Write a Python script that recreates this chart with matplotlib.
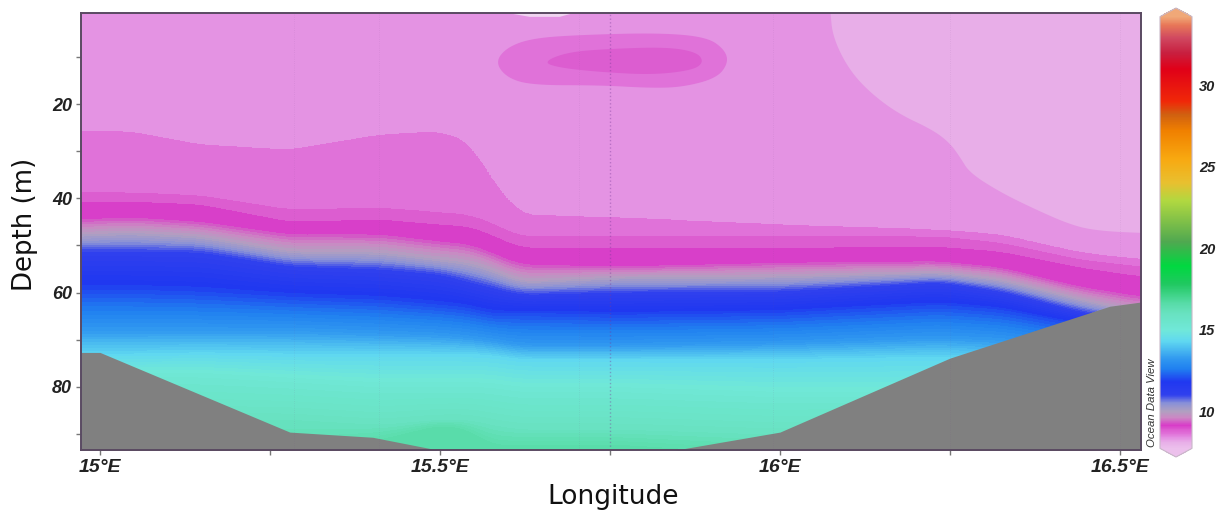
import numpy as np
import matplotlib
matplotlib.use('Agg')
import matplotlib.pyplot as plt
from matplotlib.colors import LinearSegmentedColormap, Normalize
from matplotlib.cm import ScalarMappable
from matplotlib.ticker import FixedLocator

# stations along the section (deg E)
lons = [14.972, 15.044, 15.147, 15.279, 15.412, 15.5, 15.544, 15.574, 15.618, 15.765, 16.0, 16.235, 16.324, 16.441, 16.531]

# temperature of each isotherm and its depth (m) at every station
iso_temps = [8.5, 8.75, 9.0, 9.25, 10.0, 11.0, 12.0, 13.2, 14.3, 15.2, 16.0, 16.5]
iso_depths = [
    [25.9, 25.9, 28.7, 29.8, 26.6, 25.9, 28.3, 36.1, 43.6, 44.2, 45.7, 46.8, 47.8, 51.6, 53.1],
    [38.9, 38.9, 39.5, 42.5, 42.1, 43.1, 43.6, 45.3, 48.2, 48.2, 48.2, 48.2, 49.5, 53.1, 54.6],
    [41.0, 40.8, 41.4, 45.1, 44.6, 45.7, 46.1, 47.8, 50.6, 50.6, 50.6, 50.4, 51.4, 54.8, 56.7],
    [44.6, 44.2, 45.1, 47.8, 47.8, 49.3, 49.9, 51.6, 54.2, 54.6, 53.8, 53.5, 54.8, 58.9, 61.0],
    [47.8, 47.4, 48.2, 51.4, 51.6, 53.1, 53.8, 55.2, 57.8, 56.9, 56.7, 55.9, 57.4, 61.6, 64.4],
    [51.4, 51.4, 51.6, 54.6, 55.2, 56.3, 58.0, 59.1, 60.6, 60.1, 59.9, 58.0, 59.9, 64.2, 66.5],
    [59.5, 59.5, 59.9, 61.0, 61.6, 62.7, 63.3, 64.6, 64.4, 64.8, 64.4, 62.7, 63.7, 66.9, 69.0],
    [68.0, 68.0, 68.0, 68.0, 68.6, 69.0, 69.6, 70.1, 71.2, 71.2, 70.7, 69.6, 70.1, 72.2, 74.4],
    [73.3, 73.3, 73.0, 73.3, 73.3, 73.3, 73.3, 73.5, 74.4, 74.4, 74.4, 73.9, 74.4, 76.5, 78.6],
    [77.5, 77.5, 77.5, 78.6, 79.7, 79.7, 79.7, 79.7, 80.7, 80.7, 81.8, 81.8, 81.8, 82.8, 85.0],
    [82.8, 85.0, 87.1, 87.1, 88.2, 87.1, 87.1, 88.2, 89.2, 89.2, 90.3, 89.2, 89.2, 89.2, 89.2],
    [95.6, 95.6, 95.6, 94.5, 91.3, 88.2, 89.2, 92.4, 92.4, 92.4, 94.5, 95.6, 95.6, 95.6, 95.6],
]
surface_temp = 8.3
deep_temp = 16.8

# closed contours near the surface
pale_lon = [16.073, 16.074, 16.078, 16.099, 16.128, 16.172, 16.225, 16.25, 16.265, 16.279, 16.324, 16.372, 16.422, 16.46, 16.531, 16.65, 16.65]
pale_depth = [-6.0, 0.6, 5.8, 12.1, 17.0, 21.9, 25.5, 28.3, 31.3, 34.6, 38.7, 42.1, 45.3, 46.8, 47.4, 47.6, -6.0]
blob_lon = [15.581, 15.599, 15.637, 15.710, 15.824, 15.893, 15.919, 15.924, 15.907, 15.857, 15.809, 15.735, 15.637, 15.599]
blob_depth = [11.1, 7.9, 6.0, 5.3, 4.9, 5.8, 8.5, 11.3, 14.5, 16.4, 16.6, 16.0, 16.0, 14.5]
core_lon = [15.651, 15.687, 15.746, 15.834, 15.878, 15.888, 15.872, 15.813, 15.735, 15.676]
core_depth = [11.1, 9.0, 8.3, 7.9, 9.0, 11.1, 12.8, 13.8, 13.2, 12.3]
sliver_lon = [15.596, 15.632, 15.676, 15.699]
sliver_depth = [0.6, 1.5, 1.5, 0.6]

# sea floor
bottom_lon = [14.972, 15.0, 15.279, 15.401, 15.5, 15.843, 16.0, 16.25, 16.485, 16.531]
bottom_depth = [72.7, 72.7, 89.6, 90.7, 93.5, 93.5, 89.6, 73.9, 62.9, 62.0]

# faint station lines
station_lines = [15.285, 15.41, 15.705, 15.99, 16.25, 16.5]

# Ocean Data View style colour scale
cmap_temps = [7.73, 8.1, 8.375, 8.625, 8.875, 9.125, 9.6, 10.0, 10.5, 11.0, 11.8, 12.6, 13.2, 14.3, 15.0, 16.0, 16.6,
              17.8, 18.9, 20.4, 22.9, 24.0, 25.5, 27.2, 28.2, 29.0, 31.0, 32.0, 32.9, 33.7, 34.2]
cmap_colors = ['#ecc0ec', '#e8aee8', '#e490e3', '#e070d8', '#dc5cd0', '#d83cc8', '#cc88c4', '#b0a0c0', '#8890d8', '#3040ee',
               '#2038f0', '#2080f0', '#3098f0', '#60d8f0', '#70e8d8', '#68e2c0', '#58dca8',
               '#20c860', '#00d840', '#50a850', '#b0d840', '#e8c030', '#f8a810', '#f08000', '#d06010', '#f02808',
               '#e00018', '#c82040', '#d04860', '#e87858', '#f0a878']

vmin, vmax = cmap_temps[0], cmap_temps[-1]
norm = Normalize(vmin, vmax)
odv = LinearSegmentedColormap.from_list('odv', [((t - vmin) / (vmax - vmin), c) for t, c in zip(cmap_temps, cmap_colors)], N=1024)
odv.set_under('#ecc0ec')
odv.set_over('#f0a878')


def rounded(xs, ys, n=3):
    # corner cutting so the hand read outlines are not angular
    pts = np.column_stack((xs, ys))
    for _ in range(n):
        nxt = np.roll(pts, -1, axis=0)
        pts = np.column_stack((0.75 * pts + 0.25 * nxt, 0.25 * pts + 0.75 * nxt)).reshape(-1, 2)
    return pts[:, 0], pts[:, 1]


def smooth(row, win=15):
    padded = np.pad(row, win, mode='edge')
    return np.convolve(padded, np.ones(win) / win, mode='same')[win:-win]


# rebuild the section from the isotherms
fine_lon = np.linspace(lons[0], lons[-1], 500)
fine_depth = np.linspace(0, 96, 800)
iso_fine = np.array([smooth(np.interp(fine_lon, lons, row)) for row in iso_depths])
temps = np.array([surface_temp] + iso_temps + [deep_temp])
grid = np.zeros((len(fine_depth), len(fine_lon)))
for i in range(len(fine_lon)):
    zs = np.concatenate(([0], iso_fine[:, i], [100]))
    grid[:, i] = np.interp(fine_depth, zs, temps)

levels = np.concatenate((np.arange(8.25, 9.25, 0.25), np.arange(9.25, 17.0, 0.125)))

plt.rcParams['font.family'] = ['Liberation Sans', 'DejaVu Sans']

fig = plt.figure(figsize=(12.17, 5.13), dpi=100)
W, H = 1217.0, 513.0
ax = fig.add_axes([81 / W, 1 - 450 / H, 1060 / W, 437 / H])

ax.contourf(fine_lon, fine_depth, grid, levels=levels, cmap=odv, norm=norm)
ax.fill(*rounded(pale_lon, pale_depth), color=odv(norm(8.1)), lw=0)
ax.fill(*rounded(blob_lon, blob_depth), color=odv(norm(8.625)), lw=0)
ax.fill(*rounded(core_lon, core_depth), color=odv(norm(8.875)), lw=0)
ax.fill(sliver_lon, sliver_depth, color='#f0d4f0', lw=0)

for x in station_lines:
    ax.axvline(x, color='#7a4a8a', lw=0.6, alpha=0.12, ls=':')
ax.axvline(15.75, color='#7a3a9a', lw=1.0, alpha=0.4, ls=':')

ax.fill_between(bottom_lon, bottom_depth, 100, color='#808080', lw=0)

ax.set_xlim(14.972, 16.531)
ax.set_ylim(93.4, 0.68)

ax.set_yticks([20, 40, 60, 80])
ax.yaxis.set_minor_locator(FixedLocator([10, 30, 50, 70, 90]))
ax.set_xticks([15, 15.5, 16, 16.5])
ax.set_xticklabels(['15°E', '15.5°E', '16°E', '16.5°E'])
ax.xaxis.set_minor_locator(FixedLocator([15.25, 15.75, 16.25]))
ax.tick_params(axis='both', which='both', color='#777777', width=1, length=3.5)
ax.tick_params(axis='x', which='major', pad=3)
ax.tick_params(axis='y', which='major', pad=3)
for lab in ax.get_xticklabels():
    lab.set_fontsize(14)
for lab in ax.get_yticklabels():
    lab.set_fontsize(13)
for lab in ax.get_xticklabels() + ax.get_yticklabels():
    lab.set_fontweight('bold')
    lab.set_fontstyle('italic')
    lab.set_color('#222222')

for s in ax.spines.values():
    s.set_color('#5a4a62')
    s.set_linewidth(1.4)

ax.set_xlabel('Longitude', fontsize=19, family='DejaVu Sans', color='#111111')
ax.xaxis.set_label_coords(0.502, -0.1075)
ax.xaxis.label.set_va('center')
ax.set_ylabel('Depth (m)', fontsize=18.7, family='DejaVu Sans', color='#111111')
ax.yaxis.set_label_coords(-0.053, 0.517)
ax.yaxis.label.set_va('center')

# colour bar with pointed ends
cax = fig.add_axes([1160 / W, 1 - 457 / H, 32 / W, 449 / H])
cb = fig.colorbar(ScalarMappable(norm=norm, cmap=odv), cax=cax, extend='both', extendfrac=0.02)
cb.set_ticks([10, 15, 20, 25, 30])
cb.ax.tick_params(length=0, pad=5, labelsize=10.5)
for lab in cb.ax.get_yticklabels():
    lab.set_fontweight('bold')
    lab.set_fontstyle('italic')
    lab.set_color('#222222')
cb.outline.set_edgecolor('#c8b8c8')
cb.outline.set_linewidth(0.8)

fig.text(1152 / W, 1 - 403 / H, 'Ocean Data View', rotation=90, fontsize=8.2, style='italic',
         color='#333333', ha='center', va='center')

fig.savefig('out.png', dpi=100, facecolor='white')
